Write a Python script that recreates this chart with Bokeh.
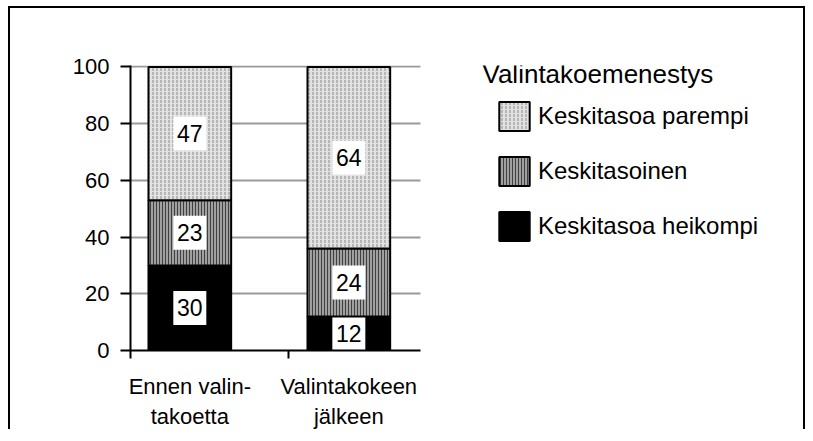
from bokeh.plotting import figure
from bokeh.models import (Range1d, FixedTicker, Legend, LegendItem, Label,
                          ColumnDataSource)
from bokeh.embed import file_html
from bokeh.resources import INLINE
from bokeh.core.properties import value

# ---- data ----
categories = ["Ennen valin-\ntakoetta", "Valintakokeen\njälkeen"]
series_names = ["Keskitasoa heikompi", "Keskitasoinen", "Keskitasoa parempi"]
heikompi = [30, 12]
keskitasoinen = [23, 24]
parempi = [47, 64]
y_ticks = [0, 20, 40, 60, 80, 100]
legend_title = "Valintakoemenestys"

FONT = "Liberation Sans"
xs = [i + 1 for i in range(len(categories))]
X0, XA = 0.627, 2.449          # extent of the chart's axis
PX = 158.07                    # pixels per category unit
W, H = 797, 423
ML, MR, MT, MB = 120, 5, 57, 78
X1 = X0 + (W - 4 - ML - MR) / PX

p = figure(width=W, height=H, output_backend="svg", toolbar_location=None,
           x_range=Range1d(X0, X1), y_range=Range1d(0, 100.5),
           min_border_left=ML, min_border_right=MR, min_border_top=MT,
           min_border_bottom=MB, title_location=None)
p.styles = {"border-top": "2px solid black", "border-left": "2px solid black",
            "border-right": "2px solid black", "transform": "translate(8px, 6px)"}
p.background_fill_color = "white"
p.border_fill_color = "white"
p.outline_line_color = None

styles = [
    dict(fill_color="black"),
    dict(fill_color="#a0a0a0", hatch_pattern="vertical_line", hatch_color="#404040",
         hatch_scale=3, hatch_weight=1),
    dict(fill_color="#e2e2e2", hatch_pattern="vertical_dash", hatch_color="#8a8a8a",
         hatch_scale=4, hatch_weight=1),
]

levels = [heikompi, keskitasoinen, parempi]
bottom = [0] * len(xs)
renderers = []
for vals, name, st in zip(levels, series_names, styles):
    top = [b + v for b, v in zip(bottom, vals)]
    src = ColumnDataSource(dict(x=xs, bottom=bottom, top=top,
                                mid=[(b + t) / 2 for b, t in zip(bottom, top)],
                                label=[str(v) for v in vals]))
    r = p.vbar(x="x", bottom="bottom", top="top", width=0.52, source=src,
               line_color="black", line_width=2, **st)
    renderers.append(r)
    p.rect(x="x", y="mid", width=33, height=34, width_units="screen",
           height_units="screen", source=src, fill_color="white", line_color=None)
    p.text(x="x", y="mid", text="label", source=src, text_align="center",
           text_baseline="middle", text_font=value(FONT), text_font_size="23px",
           text_color="black")
    bottom = top

# x axis
overrides = {}
for x, c in zip(xs, categories):
    overrides[x] = c
    overrides[str(x)] = c
p.xaxis.bounds = (X0, XA)
p.xaxis.ticker = FixedTicker(ticks=xs, minor_ticks=[X0 + 0.001, 1.62])
p.xaxis.major_label_overrides = overrides
p.xaxis.major_tick_out = 0
p.xaxis.major_tick_in = 0
p.xaxis.minor_tick_out = 8
p.xaxis.minor_tick_in = 0
p.xaxis.minor_tick_line_width = 2
p.xaxis.minor_tick_line_color = "black"
p.xaxis.axis_line_width = 2
p.xaxis.axis_line_color = "black"
p.xaxis.major_label_text_font = FONT
p.xaxis.major_label_text_font_size = "22px"
p.xaxis.major_label_text_color = "black"
p.xaxis.major_label_standoff = 15

# y axis
p.yaxis.ticker = FixedTicker(ticks=y_ticks)
p.yaxis.major_tick_out = 10
p.yaxis.major_tick_in = 0
p.yaxis.major_tick_line_width = 2
p.yaxis.major_tick_line_color = "black"
p.yaxis.minor_tick_out = 0
p.yaxis.minor_tick_in = 0
p.yaxis.axis_line_width = 2
p.yaxis.axis_line_color = "black"
p.yaxis.major_label_text_font = FONT
p.yaxis.major_label_text_font_size = "22px"
p.yaxis.major_label_text_color = "black"
p.yaxis.major_label_standoff = 11

p.xgrid.visible = False
p.ygrid.ticker = FixedTicker(ticks=y_ticks)
p.ygrid.cross_bounds = (X0, XA)
p.ygrid.grid_line_color = "#999999"
p.ygrid.grid_line_width = 2

items = [LegendItem(label=n, renderers=[r])
         for n, r in reversed(list(zip(series_names, renderers)))]
legend = Legend(items=items, location=(365, 106), orientation="vertical",
                glyph_width=38, glyph_height=36, spacing=19, label_standoff=5,
                padding=0, margin=0, border_line_color=None, background_fill_alpha=0,
                label_text_font=FONT, label_text_font_size="24px",
                label_text_color="black")
p.add_layout(legend, "center")

p.add_layout(Label(x=352, y=277, x_units="screen", y_units="screen", text=legend_title,
                   text_font=FONT, text_font_size="26px", text_baseline="alphabetic",
                   text_color="black"))

open("out.html", "w").write(file_html(p, INLINE))
